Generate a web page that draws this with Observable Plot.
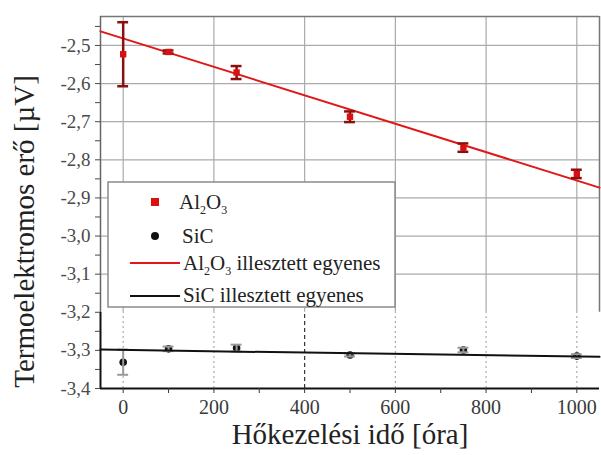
<!DOCTYPE html>
<html><head><meta charset="utf-8">
<script src="https://cdn.jsdelivr.net/npm/d3@7"></script>
<script src="https://cdn.jsdelivr.net/npm/@observablehq/plot@0.6"></script>
<style>body{margin:0;background:#fff} svg{display:block}</style>
</head><body><div id="chart"></div>
<script>
const hours = [0, 100, 250, 500, 750, 1000];
const al2o3 = [-2.523, -2.517, -2.571, -2.687, -2.768, -2.837];
const al2o3Err = [0.084, 0.004, 0.017, 0.014, 0.011, 0.011];
const sic = [-3.331, -3.296, -3.294, -3.312, -3.299, -3.315];
const sicErr = [0.033, 0.006, 0.009, 0.004, 0.006, 0.005];
const fitHours = [-50, 1050];
const al2o3Fit = [-2.463, -2.873];
const sicFit = [-3.298, -3.317];
const xDomain = [-50, 1050];
const yDomain = [-3.4, -2.424];
const yTicks = [-2.5, -2.6, -2.7, -2.8, -2.9, -3.0, -3.1, -3.2, -3.3, -3.4];
const yMinor = [-2.45, -2.55, -2.65, -2.75, -2.85, -2.95, -3.05, -3.15, -3.25, -3.35];
const yGrid = [-2.5, -2.6, -2.7, -2.8, -2.9, -3.0, -3.1];
const yBreak = -3.2;
const xTicks = [0, 200, 400, 600, 800, 1000];
const xMinor = [100, 300, 500, 700, 900];
const xGridDotted = [0, 200, 600, 800, 1000];
const xGridDashed = [400];
const xLabel = "Hőkezelési idő [óra]";
const yLabel = "Termoelektromos erő [µV]";

const alRows = hours.map((h, i) => ({h, v: al2o3[i], e: al2o3Err[i]}));
const sicRows = hours.map((h, i) => ({h, v: sic[i], e: sicErr[i]}));
const alFitRows = fitHours.map((h, i) => ({h, v: al2o3Fit[i]}));
const sicFitRows = fitHours.map((h, i) => ({h, v: sicFit[i]}));
const capHalf = 12;
const fmt = d => d.toFixed(1).replace(".", ",");
const serif = "'Liberation Serif', 'Times New Roman', serif";

const chart = Plot.plot({
  width: 601, height: 455,
  marginLeft: 100, marginRight: 2, marginTop: 16, marginBottom: 67,
  style: {fontFamily: serif, background: "#fff"},
  x: {domain: xDomain},
  y: {domain: yDomain},
  marks: [
    Plot.gridY(yGrid, {stroke: "#aaa", strokeOpacity: 1, strokeWidth: 1.2}),
    Plot.ruleX(xTicks, {y1: yBreak, y2: yDomain[1], stroke: "#aaa", strokeWidth: 1.2}),
    Plot.ruleX(xGridDotted, {y1: yDomain[0], y2: yBreak, stroke: "#aaa", strokeWidth: 1.2, strokeDasharray: "2,3"}),
    Plot.ruleX(xGridDashed, {y1: yDomain[0], y2: yBreak, stroke: "#333", strokeWidth: 1.2, strokeDasharray: "4,3"}),
    // frame
    Plot.ruleY([yDomain[1]], {stroke: "#777", strokeWidth: 1.5}),
    Plot.ruleX([xDomain[1]], {y1: yBreak, y2: yDomain[1], stroke: "#777", strokeWidth: 1.5}),
    Plot.ruleX([xDomain[0]], {y1: yBreak, y2: yDomain[1], stroke: "#666", strokeWidth: 1.5}),
    Plot.ruleX([xDomain[0]], {y1: yDomain[0], y2: yBreak, stroke: "#111", strokeWidth: 2}),
    Plot.ruleY([yDomain[0]], {stroke: "#111", strokeWidth: 2}),
    // axes
    Plot.axisY(yTicks, {tickSize: 5, tickPadding: 5, tickFormat: fmt, fontSize: 19, fontFamily: serif, color: "#4a4a4a", label: null}),
    Plot.axisY(yMinor, {tickSize: 5, tickFormat: () => "", color: "#4a4a4a", label: null}),
    Plot.axisX(xTicks, {tickSize: 5, tickPadding: 6, tickFormat: d => String(d), fontSize: 20, fontFamily: serif, color: "#3a3a3a", label: null}),
    Plot.axisX(xMinor, {tickSize: 5, tickFormat: () => "", color: "#3a3a3a", label: null}),
    // SiC
    Plot.dot(sicRows, {x: "h", y: "v", r: 3.8, fill: "#111"}),
    Plot.ruleX(sicRows, {x: "h", y1: d => d.v - d.e, y2: d => d.v + d.e, stroke: "#999", strokeWidth: 2}),
    Plot.ruleY(sicRows, {y: d => d.v - d.e, x1: d => d.h - capHalf, x2: d => d.h + capHalf, stroke: "#999", strokeWidth: 2}),
    Plot.ruleY(sicRows, {y: d => d.v + d.e, x1: d => d.h - capHalf, x2: d => d.h + capHalf, stroke: "#999", strokeWidth: 2}),
    Plot.line(sicFitRows, {x: "h", y: "v", stroke: "#111", strokeWidth: 2}),
    // Al2O3
    Plot.line(alFitRows, {x: "h", y: "v", stroke: "#e01818", strokeWidth: 2}),
    Plot.ruleX(alRows, {x: "h", y1: d => d.v - d.e, y2: d => d.v + d.e, stroke: "#8a1010", strokeWidth: 2.5}),
    Plot.ruleY(alRows, {y: d => d.v - d.e, x1: d => d.h - capHalf, x2: d => d.h + capHalf, stroke: "#8a1010", strokeWidth: 2.5}),
    Plot.ruleY(alRows, {y: d => d.v + d.e, x1: d => d.h - capHalf, x2: d => d.h + capHalf, stroke: "#8a1010", strokeWidth: 2.5}),
    Plot.dot(alRows, {x: "h", y: "v", symbol: "square", r: 3.6, fill: "#d81010"}),
    // axis titles
    Plot.text([xLabel], {frameAnchor: "bottom", dy: 55, fontSize: 29, fontFamily: serif, fill: "#222"}),
    Plot.text([yLabel], {frameAnchor: "left", textAnchor: "middle", rotate: -90, dx: -76, dy: 29, fontSize: 29, fontFamily: serif, fill: "#222"})
  ]
});
document.getElementById("chart").appendChild(chart);
const svg = d3.select(chart);
svg.selectAll("text").style("font-family", serif);

// legend
const lg = svg.append("g")
  .style("font-family", serif).style("font-size", "21px").style("text-anchor", "start")
  .attr("fill", "#222");
lg.append("rect").attr("x", 108).attr("y", 182).attr("width", 287).attr("height", 125)
  .attr("fill", "#fff").attr("stroke", "#8a8a8a").attr("stroke-width", 1.5);
const subText = (x, y, parts) => {
  const t = lg.append("text").attr("x", x).attr("y", y);
  let prevSub = false;
  parts.forEach(([s, sub]) => {
    const sp = t.append("tspan").text(s);
    if (sub) { sp.style("font-size", "12px").attr("dy", prevSub ? 0 : 5); }
    else if (prevSub) { sp.attr("dy", -5); }
    prevSub = !!sub;
  });
};
lg.append("rect").attr("x", 151).attr("y", 198).attr("width", 8).attr("height", 8).attr("fill", "#d81010");
subText(179, 209, [["Al"], ["2", true], ["O"], ["3", true]]);
lg.append("circle").attr("cx", 155).attr("cy", 236).attr("r", 4).attr("fill", "#111");
lg.append("text").attr("x", 182).attr("y", 243).text("SiC");
lg.append("line").attr("x1", 130).attr("x2", 180).attr("y1", 263).attr("y2", 263).attr("stroke", "#e01818").attr("stroke-width", 2);
subText(183, 270, [["Al"], ["2", true], ["O"], ["3", true], [" illesztett egyenes"]]);
lg.append("line").attr("x1", 130).attr("x2", 180).attr("y1", 296).attr("y2", 296).attr("stroke", "#111").attr("stroke-width", 2);
lg.append("text").attr("x", 183).attr("y", 302).text("SiC illesztett egyenes");
</script></body></html>
